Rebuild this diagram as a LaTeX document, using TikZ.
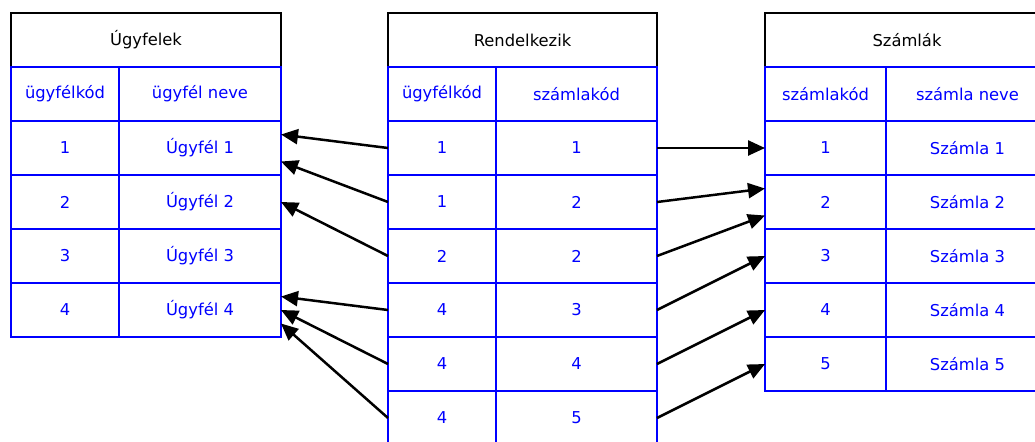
\documentclass[tikz,border=0pt]{standalone}
\usepackage{fontspec}
\setmainfont{DejaVu Sans}
\usetikzlibrary{positioning}
\usetikzlibrary{arrows.meta}

\tikzset{
	tablehead/.style = {draw = black, line width = 0.05cm, minimum height = 1.08cm, inner sep = 0pt, outer sep = 0pt},
	cell/.style = {draw = blue, line width = 0.05cm, text = blue, minimum height = 1.08cm, inner sep = 0pt, outer sep = 0pt},
	link/.style = {black, line width = 0.05cm, -{Triangle[length = 0.34cm, width = 0.3cm]}}
}

\begin{document}
\begin{tikzpicture}[x = 0.02cm, y = -0.02cm, font = \fontsize{9.3pt}{11pt}\selectfont]
							\useasboundingbox (0, 0) rectangle (1035, 441);
							\clip (0, 0) rectangle (1035, 441);
							% Ugyfelek
							\node[tablehead, minimum width = 5.4cm] (ugy) at (146, 40) {Úgyfelek};
							\node[cell, minimum width = 2.16cm] (ugyk0) at (65, 94) {ügyfélkód};
							\node[cell, minimum width = 3.24cm] (ugyn0) at (200, 94) {ügyfél neve};
							\node[cell, minimum width = 2.16cm] (ugyk1) at (65, 148) {1};
							\node[cell, minimum width = 3.24cm] (ugyn1) at (200, 148) {Úgyfél 1};
							\node[cell, minimum width = 2.16cm] (ugyk2) at (65, 202) {2};
							\node[cell, minimum width = 3.24cm] (ugyn2) at (200, 202) {Úgyfél 2};
							\node[cell, minimum width = 2.16cm] (ugyk3) at (65, 256) {3};
							\node[cell, minimum width = 3.24cm] (ugyn3) at (200, 256) {Úgyfél 3};
							\node[cell, minimum width = 2.16cm] (ugyk4) at (65, 310) {4};
							\node[cell, minimum width = 3.24cm] (ugyn4) at (200, 310) {Úgyfél 4};
							% Rendelkezik
							\node[tablehead, minimum width = 5.38cm] (ren) at (522.5, 40) {Rendelkezik};
							\node[cell, minimum width = 2.16cm] (renu0) at (442, 94) {ügyfélkód};
							\node[cell, minimum width = 3.22cm] (rens0) at (576.5, 94) {számlakód};
							\node[cell, minimum width = 2.16cm] (renu1) at (442, 148) {1};
							\node[cell, minimum width = 3.22cm] (rens1) at (576.5, 148) {1};
							\node[cell, minimum width = 2.16cm] (renu2) at (442, 202) {1};
							\node[cell, minimum width = 3.22cm] (rens2) at (576.5, 202) {2};
							\node[cell, minimum width = 2.16cm] (renu3) at (442, 256) {2};
							\node[cell, minimum width = 3.22cm] (rens3) at (576.5, 256) {2};
							\node[cell, minimum width = 2.16cm] (renu4) at (442, 310) {4};
							\node[cell, minimum width = 3.22cm] (rens4) at (576.5, 310) {3};
							\node[cell, minimum width = 2.16cm] (renu5) at (442, 364) {4};
							\node[cell, minimum width = 3.22cm] (rens5) at (576.5, 364) {4};
							\node[cell, minimum width = 2.16cm] (renu6) at (442, 418) {4};
							\node[cell, minimum width = 3.22cm] (rens6) at (576.5, 418) {5};
							% Szamlak
							\node[tablehead, minimum width = 5.68cm] (sza) at (907, 40) {Számlák};
							\node[cell, minimum width = 2.42cm] (szak0) at (825.5, 94) {számlakód};
							\node[cell, minimum width = 3.26cm] (szan0) at (967.5, 94) {számla neve};
							\node[cell, minimum width = 2.42cm] (szak1) at (825.5, 148) {1};
							\node[cell, minimum width = 3.26cm] (szan1) at (967.5, 148) {Számla 1};
							\node[cell, minimum width = 2.42cm] (szak2) at (825.5, 202) {2};
							\node[cell, minimum width = 3.26cm] (szan2) at (967.5, 202) {Számla 2};
							\node[cell, minimum width = 2.42cm] (szak3) at (825.5, 256) {3};
							\node[cell, minimum width = 3.26cm] (szan3) at (967.5, 256) {Számla 3};
							\node[cell, minimum width = 2.42cm] (szak4) at (825.5, 310) {4};
							\node[cell, minimum width = 3.26cm] (szan4) at (967.5, 310) {Számla 4};
							\node[cell, minimum width = 2.42cm] (szak5) at (825.5, 364) {5};
							\node[cell, minimum width = 3.26cm] (szan5) at (967.5, 364) {Számla 5};
							% kapcsolatok
							\draw[link] (renu1.west) -- ([yshift = 0.27cm]ugyn1.east);
							\draw[link] (renu2.west) -- ([yshift = -0.27cm]ugyn1.east);
							\draw[link] (renu3.west) -- (ugyn2.east);
							\draw[link] (renu4.west) -- ([yshift = 0.27cm]ugyn4.east);
							\draw[link] (renu5.west) -- (ugyn4.east);
							\draw[link] (renu6.west) -- ([yshift = -0.27cm]ugyn4.east);
							\draw[link] (rens1.east) -- (szak1.west);
							\draw[link] (rens2.east) -- ([yshift = 0.27cm]szak2.west);
							\draw[link] (rens3.east) -- ([yshift = -0.27cm]szak2.west);
							\draw[link] (rens4.east) -- (szak3.west);
							\draw[link] (rens5.east) -- (szak4.west);
							\draw[link] (rens6.east) -- (szak5.west);
						\end{tikzpicture}
\end{document}
